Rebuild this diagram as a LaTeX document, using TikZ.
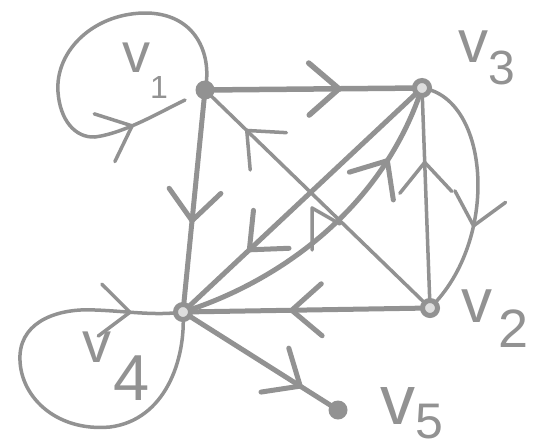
\documentclass[tikz,border=0pt]{standalone}
\usepackage{fontspec}
\setmainfont{Liberation Sans}
\usetikzlibrary{arrows.meta,decorations.markings}
\definecolor{ink}{RGB}{146,146,146}
\newcommand{\vlab}[5]{{\fontsize{#1}{#1}\selectfont v}\kern#3\raisebox{#4}{\fontsize{#2}{#2}\selectfont #5}}
\begin{document}
\begin{tikzpicture}[x=1pt,y=-1pt,
  dot/.style={circle, fill=ink, inner sep=0pt, minimum size=19pt},
  ring/.style={circle, draw=ink, line width=5pt, fill=ink!30, inner sep=0pt, minimum size=15pt},
  edge/.style={color=ink, line width=5pt, line cap=round, line join=round},
  thinedge/.style={edge, line width=3.5pt},
  midarr/.style={postaction={decorate}, decoration={markings, mark=at position #1 with {\arrow{Straight Barb[length=30pt,width=52pt,round]}}}},
  lab/.style={text=ink, inner sep=0pt, anchor=base west}]
\useasboundingbox (0,0) rectangle (534,447);
\coordinate (p1) at (205,90);
\coordinate (p3) at (422,88);
\coordinate (p2) at (430,308);
\coordinate (p4) at (183,312);
\coordinate (p5) at (338,410);
\coordinate (l1end) at (185,100);
% edges
\draw[edge, line width=5.5pt, midarr=0.63] (p1) -- (p3);
\draw[edge, midarr=0.6] (p1) -- (p4);
\draw[thinedge, midarr=0.82] (p2) -- (p1);
\draw[edge, midarr=0.73] (p3) -- (p4);
\draw[edge, midarr=0.77] (p4) .. controls (270,285) and (380,215) .. (p3);
\draw[edge, midarr=0.57] (p2) -- (p4);
\draw[thinedge, midarr=0.67] (p2) -- (p3);
\draw[thinedge, midarr=0.64] (p3) .. controls (490,98) and (500,240) .. (p2);
\draw[edge, midarr=0.77] (p4) -- (p5);
% loops
\draw[thinedge, midarr=0.86] (p1) .. controls (212,60) and (200,15) .. (148,13)
  .. controls (95,12) and (55,50) .. (58,92)
  .. controls (60,120) and (75,138) .. (95,137)
  .. controls (125,133) and (160,112) .. (l1end);
\draw[thinedge, midarr=0.89] (p4) .. controls (186,360) and (165,420) .. (110,427)
  .. controls (55,432) and (18,395) .. (20,355)
  .. controls (22,320) and (60,308) .. (95,310)
  .. controls (125,311) and (155,316) .. (p4);
% small mark
\draw[thinedge] (312,250) -- (312,208) -- (340,224);
% vertices
\node[dot] (v1) at (p1) {};
\node[ring] (v3) at (p3) {};
\node[ring] (v2) at (p2) {};
\node[ring] (v4) at (p4) {};
\node[dot] (v5) at (p5) {};
% labels
\node[lab] (t1) at (122,72) {\vlab{56}{32}{0pt}{-26pt}{1}};
\node[lab] (t3) at (458,62) {\vlab{60}{48}{0pt}{-22pt}{3}};
\node[lab] (t2) at (461,322) {\vlab{62}{54}{6pt}{-25pt}{2}};
\node[lab] (t4) at (82,362) {\vlab{58}{65}{2pt}{-38pt}{4}};
\node[lab] (t5) at (380,424) {\vlab{70}{50}{0pt}{-14pt}{5}};
\end{tikzpicture}
\end{document}
